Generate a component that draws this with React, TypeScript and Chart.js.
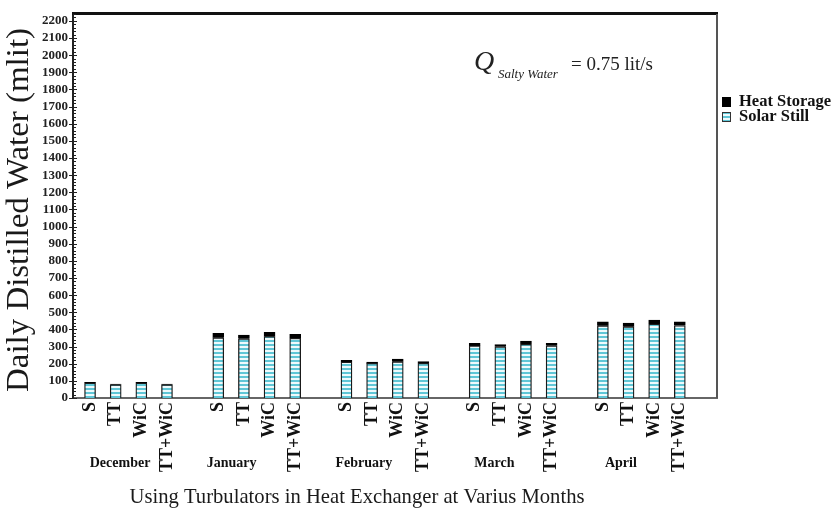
import React, { useEffect, useRef } from "react";
import { Chart, registerables } from "chart.js";

Chart.register(...registerables);

const months = ["December", "January", "February", "March", "April"];
const variants = ["S", "TT", "WiC", "TT+WiC"];
// Solar still part and heat storage part (mlit), order: month x variant
const solarStill = [
  87, 77, 87, 77,
  352, 345, 358, 349,
  210, 202, 212, 203,
  304, 299, 313, 305,
  422, 416, 431, 423,
];
const heatStorage = [
  4, 4, 4, 4,
  25, 22, 25, 22,
  10, 8, 15, 9,
  15, 12, 19, 14,
  23, 21, 24, 22,
];
const yMax = 2240;
const yStep = 100;
const yMinorStep = 20;

// slot labels: 4 variants per month with an empty slot between months
const slotLabels: string[] = [];
const barSlots: number[] = [];
months.forEach((m, i) => {
  variants.forEach((v) => {
    barSlots.push(slotLabels.length);
    slotLabels.push(v);
  });
  if (i < months.length - 1) slotLabels.push("");
});

const SERIF = "'Liberation Serif', 'Times New Roman', serif";

function makeStripe(): CanvasPattern | string {
  const c = document.createElement("canvas");
  c.width = 4;
  c.height = 4;
  const g = c.getContext("2d");
  if (!g) return "#8fd6df";
  g.fillStyle = "#eefafc";
  g.fillRect(0, 0, 4, 4);
  g.fillStyle = "#5fc6d6";
  g.fillRect(0, 0, 4, 2);
  const p = g.createPattern(c, "repeat");
  return p || "#8fd6df";
}

export default function App() {
  const ref = useRef<HTMLCanvasElement | null>(null);

  useEffect(() => {
    if (!ref.current) return;
    const stripe = makeStripe();

    const decor = {
      id: "decor",
      afterDraw(chart: any) {
        const ctx = chart.ctx as CanvasRenderingContext2D;
        const area = chart.chartArea;
        const ys = chart.scales.y;
        const xs = chart.scales.x;
        ctx.save();
        // top and right frame
        ctx.fillStyle = "#111";
        ctx.fillRect(area.left - 1, area.top - 2, area.right - area.left + 2, 3);
        ctx.strokeStyle = "#555";
        ctx.lineWidth = 2;
        ctx.beginPath();
        ctx.moveTo(area.right, area.top);
        ctx.lineTo(area.right, area.bottom);
        ctx.stroke();
        // y ticks
        ctx.strokeStyle = "#222";
        ctx.lineWidth = 1;
        for (let v = 0; v <= yMax; v += yMinorStep) {
          const py = Math.round(ys.getPixelForValue(v)) + 0.5;
          ctx.beginPath();
          if (v % yStep === 0) {
            ctx.moveTo(area.left - 4, py);
            ctx.lineTo(area.left + 4, py);
          } else {
            ctx.moveTo(area.left, py);
            ctx.lineTo(area.left + 3, py);
          }
          ctx.stroke();
        }
        // month labels
        const monthOffsets = [1.17, 0.52, 0.68, 0.77, 0.7];
        ctx.fillStyle = "#111";
        ctx.font = `bold 14px ${SERIF}`;
        ctx.textAlign = "center";
        ctx.textBaseline = "middle";
        months.forEach((m, i) => {
          const px = xs.getPixelForValue(barSlots[i * 4] + monthOffsets[i]);
          ctx.fillText(m, px, 463);
        });
        // x title
        ctx.font = `22px ${SERIF}`;
        const xt = "Using Turbulators in Heat Exchanger at Varius Months";
        const xw = ctx.measureText(xt).width;
        ctx.save();
        ctx.translate(357, 497);
        ctx.scale(455 / xw, 1);
        ctx.fillStyle = "#1a1a1a";
        ctx.fillText(xt, 0, 0);
        ctx.restore();
        // y title
        ctx.font = `31px ${SERIF}`;
        const yt = "Daily Distilled Water (mlit)";
        const yw = ctx.measureText(yt).width;
        ctx.save();
        ctx.translate(20, 210);
        ctx.rotate(-Math.PI / 2);
        ctx.scale(364 / yw, 1);
        ctx.fillStyle = "#1a1a1a";
        ctx.fillText(yt, 0, 0);
        ctx.restore();
        // annotation
        ctx.textAlign = "left";
        ctx.textBaseline = "alphabetic";
        ctx.fillStyle = "#222";
        ctx.font = `italic 28px ${SERIF}`;
        ctx.fillText("Q", 474, 70);
        ctx.font = `italic 13px ${SERIF}`;
        ctx.fillText("Salty Water", 498, 78);
        ctx.font = `19px ${SERIF}`;
        ctx.fillText("= 0.75 lit/s", 571, 70);
        // legend
        ctx.fillStyle = "#000";
        ctx.fillRect(722, 97, 9, 10);
        ctx.fillStyle = stripe as any;
        ctx.fillRect(722, 112, 9, 10);
        ctx.strokeStyle = "#333";
        ctx.lineWidth = 1;
        ctx.strokeRect(722.5, 112.5, 8, 9);
        ctx.fillStyle = "#111";
        ctx.font = `bold 16.5px ${SERIF}`;
        ctx.textBaseline = "middle";
        ctx.fillText("Heat Storage", 739, 102);
        ctx.fillText("Solar Still", 739, 117);
        ctx.restore();
      },
    };

    const chart = new Chart(ref.current, {
      type: "bar",
      data: {
        datasets: [
          {
            label: "Solar Still",
            data: barSlots.map((s, i) => ({ x: s, y: solarStill[i] })),
            backgroundColor: stripe as any,
            borderColor: "#1a1a1a",
            borderWidth: 1.3,
            barThickness: 11,
          },
          {
            label: "Heat Storage",
            data: barSlots.map((s, i) => ({ x: s, y: heatStorage[i] })),
            backgroundColor: "#000",
            borderColor: "#000",
            borderWidth: 1,
            barThickness: 11,
          },
        ],
      },
      plugins: [decor],
      options: {
        animation: false,
        responsive: true,
        maintainAspectRatio: false,
        layout: { padding: { left: 0, top: 14, right: 119, bottom: 0 } },
        plugins: {
          legend: { display: false },
          tooltip: { enabled: false },
        },
        scales: {
          x: {
            type: "linear",
            stacked: true,
            offset: false,
            min: -0.665,
            max: 24.45,
            grid: { display: false, drawTicks: false },
            border: { display: true, color: "#666", width: 2 },
            afterBuildTicks: (scale: any) => {
              scale.ticks = barSlots.map((v) => ({ value: v }));
            },
            afterFit: (scale: any) => {
              scale.height = 113;
            },
            ticks: {
              autoSkip: false,
              minRotation: 90,
              maxRotation: 90,
              padding: 4,
              color: "#111",
              font: { family: SERIF, size: 18, weight: "bold" },
              callback: (value: any) => slotLabels[Math.round(Number(value))] ?? "",
            },
          },
          y: {
            stacked: true,
            min: 0,
            max: yMax,
            grid: { display: false, drawTicks: false },
            border: { display: true, color: "#222", width: 2 },
            afterFit: (scale: any) => {
              scale.width = 73;
            },
            ticks: {
              stepSize: yStep,
              includeBounds: false,
              autoSkip: false,
              padding: 5,
              color: "#222",
              font: { family: SERIF, size: 13, weight: "bold" },
              callback: (value: any) => String(value),
            },
          },
        },
      } as any,
    });
    return () => chart.destroy();
  }, []);

  return (
    <div style={{ position: "fixed", left: 0, top: 0, width: 836, height: 511, background: "#fff" }}>
      <canvas ref={ref} />
    </div>
  );
}
